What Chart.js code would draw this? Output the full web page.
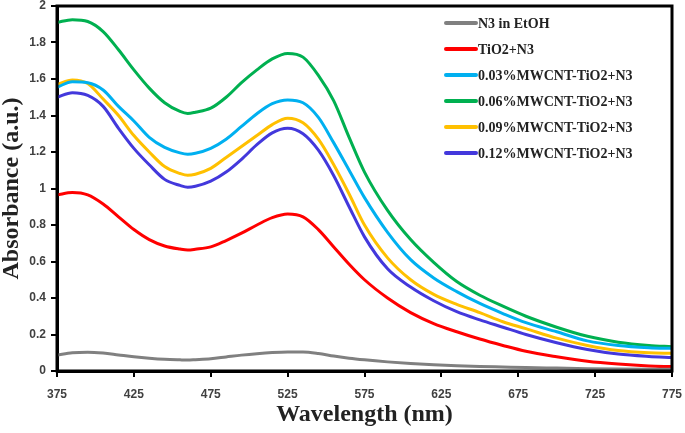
<!DOCTYPE html>
<html>
<head>
<meta charset="utf-8">
<script src="https://cdn.jsdelivr.net/npm/chart.js@4.4.1/dist/chart.umd.min.js"></script>
<style>
  html, body { margin: 0; padding: 0; background: #fff; }
  #wrap { width: 685px; height: 433px; position: relative; }
</style>
</head>
<body>
<div id="wrap"><canvas id="c" width="685" height="433"></canvas></div>
<script>
// ---- data ----
const wavelengths = [375,385,395,405,415,425,435,445,455,460,465,475,485,495,505,515,525,535,545,555,565,575,590,605,620,635,650,665,680,700,720,740,760,775];

const seriesLabels = ['N3 in EtOH','TiO2+N3','0.03%MWCNT-TiO2+N3','0.06%MWCNT-TiO2+N3','0.09%MWCNT-TiO2+N3','0.12%MWCNT-TiO2+N3'];

const n3EtOH = [0.088,0.100,0.103,0.098,0.088,0.078,0.070,0.064,0.061,0.060,0.062,0.067,0.077,0.087,0.095,0.101,0.104,0.104,0.096,0.082,0.070,0.061,0.050,0.041,0.034,0.029,0.025,0.022,0.019,0.016,0.013,0.011,0.010,0.010];
const tio2N3 = [0.965,0.978,0.965,0.915,0.845,0.775,0.72,0.685,0.668,0.663,0.667,0.68,0.715,0.755,0.80,0.84,0.86,0.845,0.775,0.68,0.585,0.50,0.40,0.32,0.26,0.215,0.175,0.14,0.108,0.078,0.053,0.038,0.028,0.024];
const mw003 = [1.555,1.585,1.58,1.54,1.45,1.37,1.28,1.225,1.195,1.188,1.193,1.22,1.27,1.34,1.41,1.465,1.485,1.47,1.39,1.25,1.10,0.95,0.76,0.61,0.51,0.435,0.37,0.315,0.265,0.215,0.165,0.14,0.128,0.124];
const mw006 = [1.91,1.925,1.915,1.86,1.76,1.65,1.55,1.47,1.422,1.411,1.418,1.44,1.50,1.58,1.65,1.71,1.74,1.72,1.62,1.48,1.28,1.09,0.88,0.72,0.595,0.49,0.415,0.355,0.30,0.24,0.19,0.158,0.14,0.133];
const mw009 = [1.57,1.595,1.575,1.49,1.40,1.29,1.20,1.12,1.082,1.072,1.078,1.11,1.17,1.23,1.29,1.35,1.385,1.36,1.27,1.13,0.97,0.80,0.62,0.50,0.42,0.365,0.32,0.27,0.232,0.18,0.14,0.112,0.10,0.097];
const mw012 = [1.50,1.525,1.51,1.45,1.33,1.22,1.13,1.05,1.017,1.007,1.012,1.04,1.09,1.16,1.24,1.305,1.33,1.30,1.21,1.07,0.90,0.735,0.56,0.46,0.385,0.325,0.28,0.24,0.20,0.155,0.118,0.093,0.08,0.074];

const xTickValues = [375,425,475,525,575,625,675,725,775];
const yTickValues = [0,0.2,0.4,0.6,0.8,1,1.2,1.4,1.6,1.8,2];

const xTitle = 'Wavelength (nm)';
const yTitle = 'Absorbance (a.u.)';

// ---- styling ----
const colors = ['#808080','#FF0000','#00B0F0','#00B050','#FFC000','#4338DC'];
const allSeries = [n3EtOH, tio2N3, mw003, mw006, mw009, mw012];

const datasets = allSeries.map((arr, i) => ({
  label: seriesLabels[i],
  data: wavelengths.map((x, j) => ({ x: x, y: arr[j] })),
  borderColor: colors[i],
  backgroundColor: colors[i],
  borderWidth: 3,
  pointRadius: 0,
  cubicInterpolationMode: 'monotone',
  fill: false
}));

const legendPlugin = {
  id: 'insideLegend',
  afterDraw(chart) {
    const ctx = chart.ctx;
    ctx.save();
    ctx.font = 'bold 14px "Liberation Serif", "Times New Roman", serif';
    ctx.textBaseline = 'middle';
    ctx.textAlign = 'left';
    chart.data.datasets.forEach((ds, i) => {
      const y = 23 + i * 26;
      ctx.strokeStyle = ds.borderColor;
      ctx.lineWidth = 4;
      ctx.lineCap = 'round';
      ctx.beginPath();
      ctx.moveTo(446, y);
      ctx.lineTo(476, y);
      ctx.stroke();
      ctx.fillStyle = '#222';
      ctx.fillText(ds.label, 478, y + 1);
    });
    ctx.restore();
  }
};

const framePlugin = {
  id: 'frame',
  afterDatasetsDraw(chart) {
    const a = chart.chartArea;
    const ctx = chart.ctx;
    ctx.save();
    ctx.strokeStyle = '#000';
    ctx.lineWidth = 3;
    ctx.strokeRect(a.left, a.top, a.right - a.left, a.bottom - a.top);
    ctx.restore();
  }
};

new Chart(document.getElementById('c'), {
  type: 'line',
  data: { datasets: datasets },
  options: {
    responsive: false,
    animation: false,
    layout: { padding: { left: 0, right: 13, top: 6, bottom: 0 } },
    plugins: { legend: { display: false }, tooltip: { enabled: false } },
    scales: {
      x: {
        type: 'linear',
        min: 375, max: 775,
        afterBuildTicks: s => { s.ticks = xTickValues.map(v => ({ value: v })); },
        afterFit: s => { s.height = 62; s.paddingLeft = 0; s.paddingRight = 0; },
        grid: { display: true, drawOnChartArea: false, drawTicks: true, tickLength: 6, color: '#000', lineWidth: 2 },
        border: { display: true, color: '#000', width: 3 },
        ticks: {
          padding: 10,
          color: '#404040',
          font: { family: '"Liberation Sans", Arial, sans-serif', size: 12, weight: 'bold' },
          callback: v => String(v),
          maxRotation: 0, autoSkip: false
        },
        title: {
          display: true, text: xTitle, color: '#222',
          font: { family: '"Liberation Serif", "Times New Roman", serif', size: 24, weight: 'bold', lineHeight: 1 },
          padding: { top: 0, bottom: 6 }
        }
      },
      y: {
        type: 'linear',
        min: 0, max: 2,
        afterBuildTicks: s => { s.ticks = yTickValues.map(v => ({ value: v })); },
        afterFit: s => { s.width = 57; s.paddingTop = 0; s.paddingBottom = 0; },
        grid: { display: true, drawOnChartArea: false, drawTicks: true, tickLength: 6, color: '#000', lineWidth: 2 },
        border: { display: true, color: '#000', width: 3 },
        ticks: {
          padding: 5,
          color: '#404040',
          font: { family: '"Liberation Sans", Arial, sans-serif', size: 12, weight: 'bold' },
          callback: v => String(+Number(v).toFixed(1))
        },
        title: {
          display: true, text: yTitle, color: '#222',
          font: { family: '"Liberation Serif", "Times New Roman", serif', size: 24, weight: 'bold', lineHeight: 1 },
          padding: { top: 0, bottom: 0 }
        }
      }
    }
  },
  plugins: [framePlugin, legendPlugin]
});
</script>
</body>
</html>
